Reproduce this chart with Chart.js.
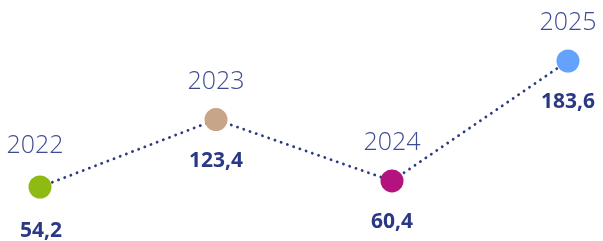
<!DOCTYPE html>
<html><head><meta charset="utf-8">
<script src="https://cdn.jsdelivr.net/npm/chart.js@4"></script>
<style>html,body{margin:0;padding:0;background:#fff}#w{width:603px;height:241px}</style>
</head><body><div id="w"><canvas id="c"></canvas></div>
<script>
const years = ['2022','2023','2024','2025'];
const values = [54.2, 123.4, 60.4, 183.6];
const valueLabels = ['54,2','123,4','60,4','183,6'];
const pointColors = ['#8fba14','#c6a588','#b4127e','#64a2fb'];

const labelPlugin = {
  id:'labels',
  afterDatasetsDraw(chart){
    const ctx = chart.ctx;
    const meta = chart.getDatasetMeta(0);
    ctx.save();
    ctx.textAlign='center';
    ctx.textBaseline='alphabetic';
    meta.data.forEach((pt,i)=>{
      ctx.font='300 25px "Open Sans"';
      ctx.fillStyle='#3d4b94';
      ctx.fillText(years[i], pt.x - (i===0?5:0), pt.y - (i===0?34:31));
      ctx.font='bold 21px "Open Sans"';
      ctx.fillStyle='#2b3885';
      ctx.fillText(valueLabels[i], pt.x + (i===0?1:0), pt.y + (i===0?50:47));
    });
    ctx.restore();
  }
};

new Chart(document.getElementById('c'),{
  type:'line',
  data:{labels:years,datasets:[{
    data:values,
    borderColor:'#2e3a80',
    borderWidth:2.8,
    borderDash:[0.1,6.5],
    borderCapStyle:'round',
    pointBackgroundColor:pointColors,
    pointBorderWidth:0,
    pointRadius:11.5,
    pointHoverRadius:11.5,
    tension:0,
    clip:false
  }]},
  options:{
    responsive:true,maintainAspectRatio:false,animation:false,
    layout:{padding:{left:40,right:35,top:61,bottom:54}},
    plugins:{legend:{display:false},tooltip:{enabled:false}},
    scales:{
      x:{display:false,offset:false},
      y:{display:false,min:Math.min(...values),max:Math.max(...values)}
    }
  },
  plugins:[labelPlugin]
});
</script></body></html>
